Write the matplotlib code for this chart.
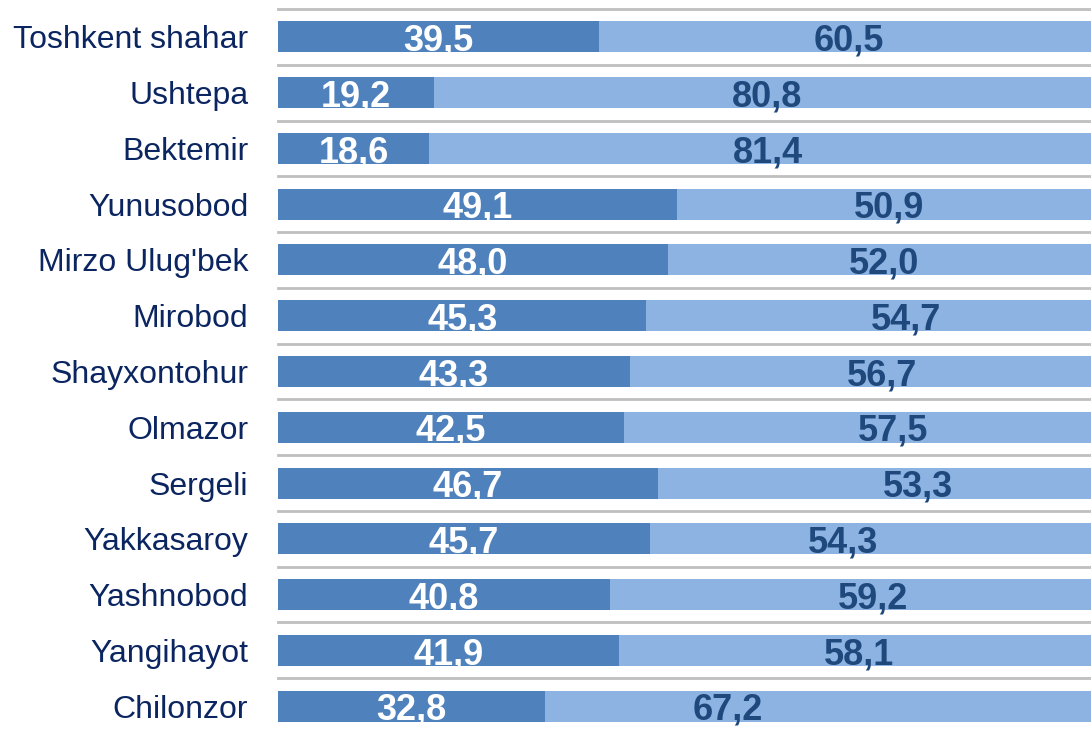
import numpy as np
import matplotlib.pyplot as plt

plt.rcParams['font.family'] = ['Liberation Sans', 'DejaVu Sans']

districts = ['Toshkent shahar', 'Ushtepa', 'Bektemir', 'Yunusobod', "Mirzo Ulug'bek",
             'Mirobod', 'Shayxontohur', 'Olmazor', 'Sergeli', 'Yakkasaroy',
             'Yashnobod', 'Yangihayot', 'Chilonzor']
part_a = [39.5, 19.2, 18.6, 49.1, 48.0, 45.3, 43.3, 42.5, 46.7, 45.7, 40.8, 41.9, 32.8]
part_b = [60.5, 80.8, 81.4, 50.9, 52.0, 54.7, 56.7, 57.5, 53.3, 54.3, 59.2, 58.1, 67.2]

# label nudges (x units) as placed in the original
shift_b = [0.5, 0.6, 1.0, 0.6, 0.5, 4.6, 2.6, 4.4, 5.4, -3.3, 2.8, 0.5, -11.1]

dark = '#4F81BD'
light = '#8DB3E2'
navy = '#0B2561'

fig = plt.figure(figsize=(10.91, 7.29), dpi=100)
ax = fig.add_axes([278 / 1091, 0, 1 - 278 / 1091, 1 - 9 / 729])

y = np.arange(len(districts))
ax.barh(y, part_a, height=0.556, color=dark)
ax.barh(y, part_b, left=part_a, height=0.556, color=light)

fmt = lambda v: f'{v:.1f}'.replace('.', ',')
for i in range(len(districts)):
    ax.text(part_a[i] / 2, i + 0.245, fmt(part_a[i]), ha='center', va='baseline',
            color='white', fontsize=26, fontweight='bold')
    ax.text(part_a[i] + part_b[i] / 2 + shift_b[i], i + 0.245, fmt(part_b[i]),
            ha='center', va='baseline', color='#1F497D', fontsize=26, fontweight='bold')

ax.set_yticks(y)
ax.set_yticklabels(districts, fontsize=23, color=navy)
ax.tick_params(axis='y', length=0, pad=21.5)
ax.set_xticks([])
ax.set_yticks(np.arange(-0.5, len(districts), 1), minor=True)
ax.tick_params(axis='y', which='minor', length=0)
ax.grid(axis='y', which='minor', color='#BFBFBF', linewidth=2, clip_on=False)
ax.set_axisbelow(True)
ax.set_xlim(0, 100)
ax.set_ylim(12.41, -0.5)
for s in ax.spines.values():
    s.set_visible(False)

fig.savefig('out.png', dpi=100)
